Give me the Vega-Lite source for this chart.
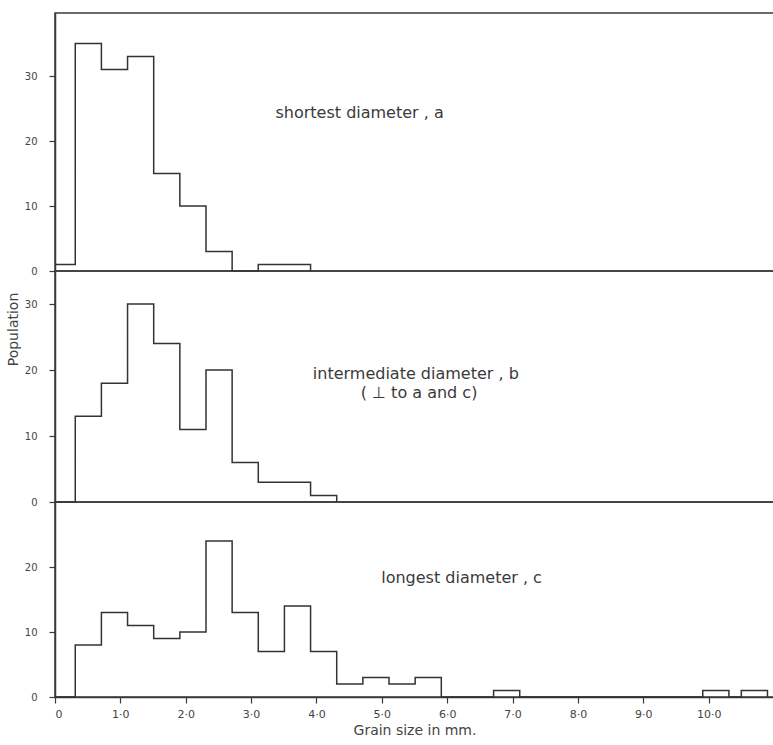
{
  "$schema": "https://vega.github.io/schema/vega-lite/v6.json",
  "padding": {"left": 5, "top": 12, "right": 0, "bottom": 0},
  "background": "white",
  "spacing": 0,
  "bounds": "flush",
  "config": {
    "view": {"stroke": "#3a3a3a", "strokeWidth": 1.5},
    "axis": {
      "domainColor": "#3a3a3a", "domainWidth": 1.5, "tickColor": "#3a3a3a", "tickWidth": 1.2,
      "labelColor": "#444", "titleColor": "#444",
      "labelFont": "DejaVu Sans", "titleFont": "DejaVu Sans",
      "labelFontSize": 10, "titleFontSize": 14, "titleFontWeight": "normal", "grid": false
    },
    "text": {"font": "DejaVu Sans", "fontSize": 16, "color": "#3a3a3a"}
  },
  "datasets": {
    "a": [
      {"size": 0, "count": 1}, {"size": 0.31, "count": 35}, {"size": 0.71, "count": 31},
      {"size": 1.11, "count": 33}, {"size": 1.51, "count": 15}, {"size": 1.91, "count": 10},
      {"size": 2.31, "count": 3}, {"size": 2.71, "count": 0}, {"size": 3.11, "count": 1},
      {"size": 3.51, "count": 1}, {"size": 3.91, "count": 0}
    ],
    "b": [
      {"size": 0, "count": 0}, {"size": 0.31, "count": 13}, {"size": 0.71, "count": 18},
      {"size": 1.11, "count": 30}, {"size": 1.51, "count": 24}, {"size": 1.91, "count": 11},
      {"size": 2.31, "count": 20}, {"size": 2.71, "count": 6}, {"size": 3.11, "count": 3},
      {"size": 3.51, "count": 3}, {"size": 3.91, "count": 1}, {"size": 4.31, "count": 0}
    ],
    "c": [
      {"size": 0, "count": 0}, {"size": 0.31, "count": 8}, {"size": 0.71, "count": 13},
      {"size": 1.11, "count": 11}, {"size": 1.51, "count": 9}, {"size": 1.91, "count": 10},
      {"size": 2.31, "count": 24}, {"size": 2.71, "count": 13}, {"size": 3.11, "count": 7},
      {"size": 3.51, "count": 14}, {"size": 3.91, "count": 7}, {"size": 4.31, "count": 2},
      {"size": 4.71, "count": 3}, {"size": 5.11, "count": 2}, {"size": 5.51, "count": 3},
      {"size": 5.91, "count": 0}, {"size": 6.71, "count": 1}, {"size": 7.11, "count": 0},
      {"size": 9.91, "count": 1}, {"size": 10.31, "count": 0}, {"size": 10.5, "count": 1},
      {"size": 10.9, "count": 0}
    ],
    "la": [{"size": 4.66, "count": 24.3, "label": "shortest diameter , a"}],
    "lb": [
      {"size": 5.52, "count": 19.4, "label": "intermediate diameter , b"},
      {"size": 5.57, "count": 16.5, "label": "( ⊥ to a and c)"}
    ],
    "lc": [{"size": 6.22, "count": 18.3, "label": "longest diameter , c"}]
  },
  "vconcat": [
    {
      "width": 719, "height": 258,
      "encoding": {
        "x": {"field": "size", "type": "quantitative", "scale": {"domain": [0, 11], "nice": false}, "axis": null},
        "y": {"field": "count", "type": "quantitative", "scale": {"domain": [0, 39.7], "nice": false},
              "axis": {"values": [0, 10, 20, 30], "tickSize": 6, "labelPadding": 12, "title": null, "minExtent": 32, "maxExtent": 32}}
      },
      "layer": [
        {
          "data": {"name": "a"},
          "mark": {"type": "line", "interpolate": "step-after", "color": "#333", "strokeWidth": 1.5}
        },
        {
          "data": {"name": "la"},
          "mark": {"type": "text", "align": "center", "baseline": "middle"},
          "encoding": {"text": {"field": "label"}}
        }
      ]
    },
    {
      "width": 719, "height": 231,
      "encoding": {
        "x": {"field": "size", "type": "quantitative", "scale": {"domain": [0, 11], "nice": false}, "axis": null},
        "y": {"field": "count", "type": "quantitative", "scale": {"domain": [0, 35], "nice": false},
              "axis": {"values": [0, 10, 20, 30], "tickSize": 6, "labelPadding": 12, "title": "Population", "titlePadding": 3, "titleY": 58, "minExtent": 32, "maxExtent": 32}}
      },
      "layer": [
        {
          "data": {"name": "b"},
          "mark": {"type": "line", "interpolate": "step-after", "color": "#333", "strokeWidth": 1.5}
        },
        {
          "data": {"name": "lb"},
          "mark": {"type": "text", "align": "center", "baseline": "middle"},
          "encoding": {"text": {"field": "label"}}
        }
      ]
    },
    {
      "width": 719, "height": 195,
      "encoding": {
        "x": {"field": "size", "type": "quantitative", "scale": {"domain": [0, 11], "nice": false},
              "axis": {"values": [0, 1, 2, 3, 4, 5, 6, 7, 8, 9, 10],
                       "labelExpr": "datum.value == 0 ? '0' : replace(format(datum.value, '.1f'), '.', '·')",
                       "tickSize": 6, "labelPadding": 5, "labelFontSize": 11,
                       "title": "Grain size in mm.", "titlePadding": 4}},
        "y": {"field": "count", "type": "quantitative", "scale": {"domain": [0, 30], "nice": false},
              "axis": {"values": [0, 10, 20], "tickSize": 6, "labelPadding": 12, "title": null, "minExtent": 32, "maxExtent": 32}}
      },
      "layer": [
        {
          "data": {"name": "c"},
          "mark": {"type": "line", "interpolate": "step-after", "color": "#333", "strokeWidth": 1.5}
        },
        {
          "data": {"name": "lc"},
          "mark": {"type": "text", "align": "center", "baseline": "middle"},
          "encoding": {"text": {"field": "label"}}
        }
      ]
    }
  ]
}
